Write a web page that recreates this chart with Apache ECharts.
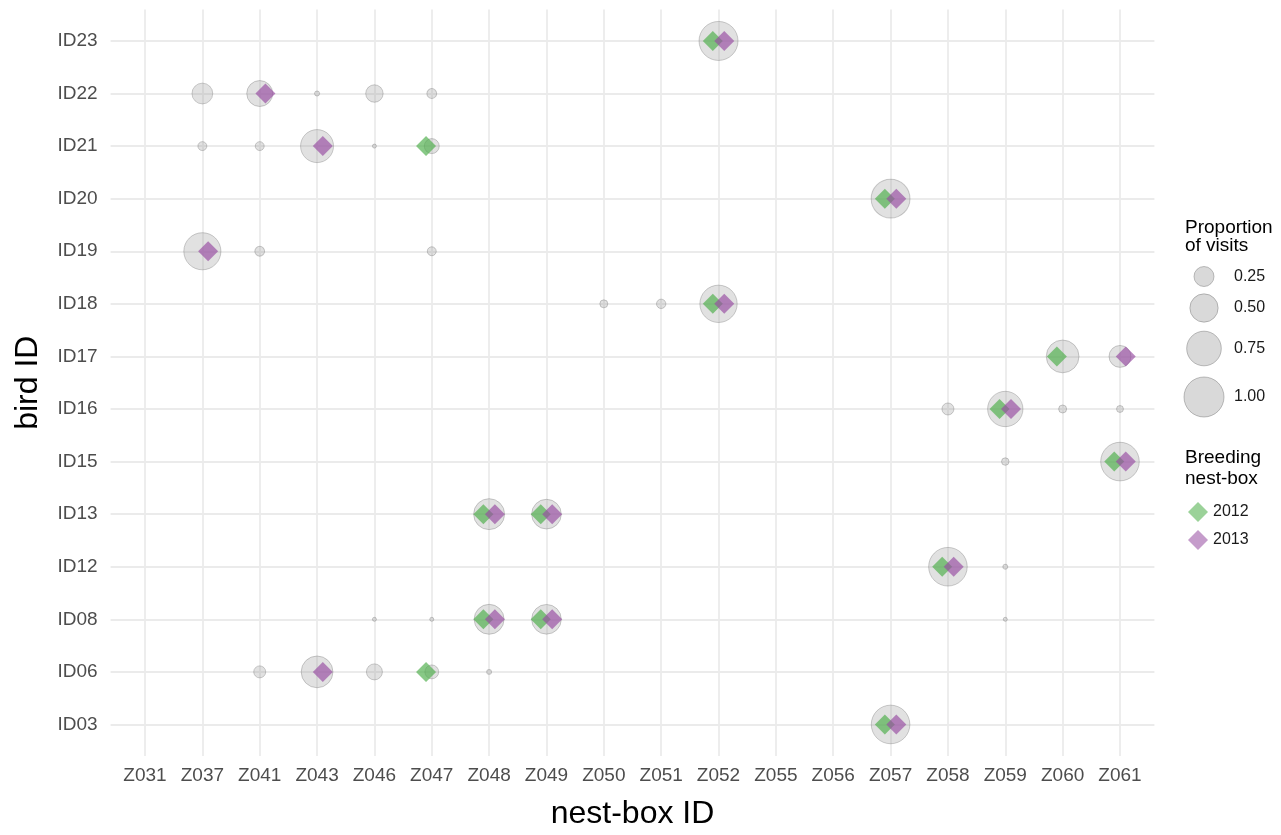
<!DOCTYPE html>
<html>
<head>
<meta charset="utf-8">
<script src="https://cdn.jsdelivr.net/npm/echarts@6/dist/echarts.min.js"></script>
<style>
html,body{margin:0;padding:0;background:#fff;}
#chart{width:1281px;height:835px;}
</style>
</head>
<body>
<div id="chart"></div>
<script>
// ---- data ----
const nestBoxes = ['Z031','Z037','Z041','Z043','Z046','Z047','Z048','Z049','Z050','Z051','Z052','Z055','Z056','Z057','Z058','Z059','Z060','Z061'];
const birds = ['ID03','ID06','ID08','ID12','ID13','ID15','ID16','ID17','ID18','ID19','ID20','ID21','ID22','ID23'];
// [nest-box, bird, proportion of visits]
const visits = [
  ['Z057','ID03',0.93],
  ['Z041','ID06',0.09],['Z043','ID06',0.63],['Z046','ID06',0.16],['Z047','ID06',0.12],['Z048','ID06',0.015],
  ['Z046','ID08',0.01],['Z047','ID08',0.01],['Z048','ID08',0.56],['Z049','ID08',0.55],['Z059','ID08',0.01],
  ['Z058','ID12',0.93],['Z059','ID12',0.015],
  ['Z048','ID13',0.6],['Z049','ID13',0.55],
  ['Z059','ID15',0.035],['Z061','ID15',0.93],
  ['Z058','ID16',0.09],['Z059','ID16',0.78],['Z060','ID16',0.04],['Z061','ID16',0.03],
  ['Z060','ID17',0.67],['Z061','ID17',0.3],
  ['Z050','ID18',0.04],['Z051','ID18',0.055],['Z052','ID18',0.87],
  ['Z037','ID19',0.86],['Z041','ID19',0.06],['Z047','ID19',0.05],
  ['Z057','ID20',0.94],
  ['Z037','ID21',0.05],['Z041','ID21',0.05],['Z043','ID21',0.68],['Z046','ID21',0.01],['Z047','ID21',0.14],
  ['Z037','ID22',0.27],['Z041','ID22',0.42],['Z043','ID22',0.016],['Z046','ID22',0.19],['Z047','ID22',0.06],
  ['Z052','ID23',0.95]
];
const breeding2012 = [
  ['Z057','ID03'],['Z047','ID06'],['Z048','ID08'],['Z049','ID08'],['Z058','ID12'],['Z048','ID13'],['Z049','ID13'],
  ['Z061','ID15'],['Z059','ID16'],['Z060','ID17'],['Z052','ID18'],['Z057','ID20'],['Z047','ID21'],['Z052','ID23']
];
const breeding2013 = [
  ['Z057','ID03'],['Z043','ID06'],['Z048','ID08'],['Z049','ID08'],['Z058','ID12'],['Z048','ID13'],['Z049','ID13'],
  ['Z061','ID15'],['Z059','ID16'],['Z061','ID17'],['Z052','ID18'],['Z037','ID19'],['Z057','ID20'],['Z043','ID21'],
  ['Z041','ID22'],['Z052','ID23']
];
const sizeLegendValues = [0.25, 0.50, 0.75, 1.00];

// ---- layout / style ----
const DODGE = 0.1;
const MAXD = 40;
const FONT = '"Liberation Sans", Arial, Helvetica, sans-serif';
const bubbleFill = 'rgba(150,150,150,0.36)';
const bubbleBorder = 'rgba(95,95,95,0.38)';
const col2012 = 'rgba(77,175,74,0.84)';
const col2013 = 'rgba(152,78,163,0.84)';
const leg2012 = 'rgba(77,175,74,0.7)';
const leg2013 = 'rgba(152,78,163,0.7)';

const xi = b => nestBoxes.indexOf(b);
const yi = b => birds.indexOf(b);
const idxX = nestBoxes.map((_, i) => i);
const idxY = birds.map((_, i) => i);

const chart = echarts.init(document.getElementById('chart'), null, {renderer: 'canvas'});

const gridLeft = 110.6, gridRight = 126.6, gridTop = 9.4, gridBottom = 78.4;

const legendX = 1204;
const legendYs = [276.5, 308, 348.5, 397];
const graphics = [
  {type:'text', left:1185, top:228.4 - 10, style:{text:'Proportion', font:'19px ' + FONT, fill:'#000'}},
  {type:'text', left:1185, top:246.7 - 10, style:{text:'of visits', font:'19px ' + FONT, fill:'#000'}},
  {type:'text', left:1185, top:458.4 - 10, style:{text:'Breeding', font:'19px ' + FONT, fill:'#000'}},
  {type:'text', left:1185, top:479.4 - 10, style:{text:'nest-box', font:'19px ' + FONT, fill:'#000'}}
];
sizeLegendValues.forEach((v, i) => {
  graphics.push({type:'circle', shape:{cx:legendX, cy:legendYs[i], r:MAXD/2*Math.sqrt(v)},
    style:{fill:bubbleFill, stroke:bubbleBorder, lineWidth:1}});
  graphics.push({type:'text', x:1234, y:legendYs[i], style:{text:v.toFixed(2), font:'16px ' + FONT, fill:'#1a1a1a', verticalAlign:'middle', align:'left'}});
});

chart.setOption({
  animation: false,
  backgroundColor: '#fff',
  grid: {left: gridLeft, right: gridRight, top: gridTop, bottom: gridBottom, containLabel: false},
  xAxis: {
    type: 'value', min: -0.6, max: nestBoxes.length - 1 + 0.6,
    axisLine: {show: false},
    axisTick: {show: false, customValues: idxX},
    axisLabel: {customValues: idxX, formatter: v => nestBoxes[Math.round(v)], color: '#4d4d4d', fontSize: 19, fontFamily: FONT, margin: 10},
    splitLine: {show: true, lineStyle: {color: '#ebebeb', width: 1.8}},
    name: 'nest-box ID', nameLocation: 'middle', nameGap: 42,
    nameTextStyle: {fontSize: 32, color: '#000', fontFamily: FONT}
  },
  yAxis: {
    type: 'value', min: -0.6, max: birds.length - 1 + 0.6,
    axisLine: {show: false},
    axisTick: {show: false, customValues: idxY},
    axisLabel: {customValues: idxY, formatter: v => birds[Math.round(v)], color: '#4d4d4d', fontSize: 19, fontFamily: FONT, margin: 13},
    splitLine: {show: true, lineStyle: {color: '#ebebeb', width: 1.8}},
    name: 'bird ID', nameLocation: 'middle', nameGap: 66,
    nameTextStyle: {fontSize: 32, color: '#000', fontFamily: FONT}
  },
  legend: {
    data: [{name: '2012', itemStyle: {color: leg2012}}, {name: '2013', itemStyle: {color: leg2013}}],
    orient: 'vertical', left: 1183, top: 497,
    itemWidth: 20, itemHeight: 20, itemGap: 8, icon: 'diamond',
    textStyle: {fontSize: 16, color: '#1a1a1a', fontFamily: FONT}
  },
  series: [
    {
      name: 'visits', type: 'scatter', z: 1,
      data: visits.map(d => [xi(d[0]), yi(d[1]), d[2]]),
      symbol: 'circle',
      symbolSize: v => MAXD * Math.sqrt(v[2]),
      itemStyle: {color: bubbleFill, borderColor: bubbleBorder, borderWidth: 1},
      emphasis: {disabled: true}
    },
    {
      name: '2012', type: 'scatter', z: 2,
      data: breeding2012.map(d => [xi(d[0]) - DODGE, yi(d[1])]),
      symbol: 'diamond', symbolSize: 20,
      itemStyle: {color: col2012},
      emphasis: {disabled: true}
    },
    {
      name: '2013', type: 'scatter', z: 3,
      data: breeding2013.map(d => [xi(d[0]) + DODGE, yi(d[1])]),
      symbol: 'diamond', symbolSize: 20,
      itemStyle: {color: col2013},
      emphasis: {disabled: true}
    }
  ],
  graphic: graphics
});
</script>
</body>
</html>
